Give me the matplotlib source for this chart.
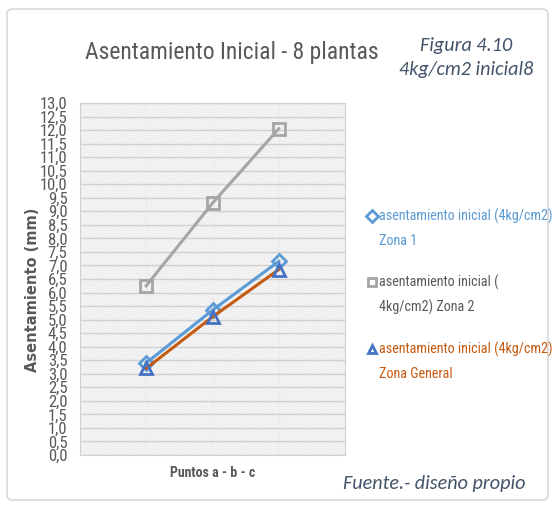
import matplotlib
matplotlib.use("Agg")
import matplotlib.pyplot as plt
from matplotlib import font_manager
from matplotlib.lines import Line2D
from matplotlib.patches import Rectangle, FancyBboxPatch
import numpy as np

# data
puntos = ["a", "b", "c"]
zona1 = [3.4, 5.35, 7.15]
zona2 = [6.25, 9.3, 12.05]
zona_general = [3.2, 5.1, 6.85]
yticks = np.arange(0, 13.01, 0.5)

installed = {f.name for f in font_manager.fontManager.ttflist}

def pick(cands):
    for c in cands:
        if c in installed:
            return [c, "DejaVu Sans"]
    return ["DejaVu Sans"]

narrow = pick(["Roboto Condensed", "PT Sans Narrow", "Archivo Narrow",
               "Open Sans Condensed", "Fira Sans Condensed",
               "Liberation Sans Narrow", "Carlito"])
ital = pick(["Carlito", "Open Sans", "Noto Sans"])
plt.rcParams["font.family"] = narrow
plt.rcParams["hatch.linewidth"] = 0.5

W, H = 555, 509
fig = plt.figure(figsize=(W / 100, H / 100), dpi=100)

def fx(px):
    return px / W

def fy(py):
    return 1 - py / H

# outer border
fig.add_artist(FancyBboxPatch((fx(7), fy(500)), fx(541), fy(9) - fy(500),
                              boxstyle="round,pad=0,rounding_size=0.01",
                              transform=fig.transFigure, fc="white",
                              ec="#d9d9d9", lw=1.2, zorder=0))

ax = fig.add_axes([fx(80), fy(455), fx(345) - fx(80), fy(103) - fy(455)])
ax.set_facecolor("none")
ax.add_patch(Rectangle((0, 0), 1, 1, transform=ax.transAxes, fc="white",
                       ec="#dedede", hatch="\\" * 14, lw=0, zorder=0))

x = np.arange(1, len(puntos) + 1)
ax.plot(x, zona2, color="#a5a5a5", lw=2.2, marker="s", ms=8, mfc="none",
        mec="#a5a5a5", mew=2, zorder=3)
ax.plot(x, zona1, color="#5b9bd5", lw=2.2, marker="D", ms=7, mfc="none",
        mec="#5b9bd5", mew=2, zorder=4)
ax.plot(x, zona_general, color="#c55a11", lw=2.2, zorder=5)
ax.plot(x, zona_general, ls="none", marker="^", ms=8, mfc="none",
        mec="#4472c4", mew=2, zorder=6)

ax.set_xlim(0, 4)
ax.set_ylim(0, 13)
ax.set_yticks(yticks)
ax.set_yticklabels([f"{v:.1f}".replace(".", ",") for v in yticks],
                   fontsize=12, color="#595959")
ax.set_xticks(x)
ax.set_xticklabels([])
ax.tick_params(length=0, pad=9)
ax.grid(axis="y", color="#d0d0d0", lw=1)
ax.grid(axis="x", color="#ececec", lw=1)
for s in ax.spines.values():
    s.set_color("#d0d0d0")

fig.text(fx(33), fy(290), "Asentamiento (mm)", fontsize=10.5,
         fontweight="bold", color="#595959", rotation=90,
         ha="center", va="center", family=["DejaVu Sans"])

fig.text(fx(213), fy(473), "Puntos a - b - c", fontsize=10, fontweight="bold",
         color="#595959", ha="center", va="center")

fig.text(fx(232), fy(52), "Asentamiento Inicial - 8 plantas", fontsize=17,
         color="#595959", ha="center", va="center")

fig.text(fx(466), fy(45), "Figura 4.10", fontsize=14.5, style="italic",
         color="#44546a", ha="center", va="center", family=ital)
fig.text(fx(466), fy(70), "4kg/cm2 inicial8", fontsize=14.5, style="italic",
         color="#44546a", ha="center", va="center", family=ital)
fig.text(fx(434), fy(483), "Fuente.- diseño propio", fontsize=14.5,
         style="italic", color="#44546a", ha="center", va="center", family=ital)

# legend
items = [
    ("D", "#5b9bd5", "#5b9bd5", ["asentamiento inicial (4kg/cm2)", "Zona 1"], 216),
    ("s", "#a5a5a5", "#595959", ["asentamiento inicial (", "4kg/cm2) Zona 2"], 282),
    ("^", "#4472c4", "#c55a11", ["asentamiento inicial (4kg/cm2)", "Zona General"], 349),
]
for mk, mcol, tcol, lines, ytop in items:
    fig.add_artist(Line2D([fx(372)], [fy(ytop)], marker=mk, ms=6, mfc="none",
                          mec=mcol, mew=2, transform=fig.transFigure))
    for i, t in enumerate(lines):
        fig.text(fx(379), fy(ytop + i * 25), t, fontsize=10.2, color=tcol,
                 ha="left", va="center")

fig.savefig("out.png", dpi=100)
